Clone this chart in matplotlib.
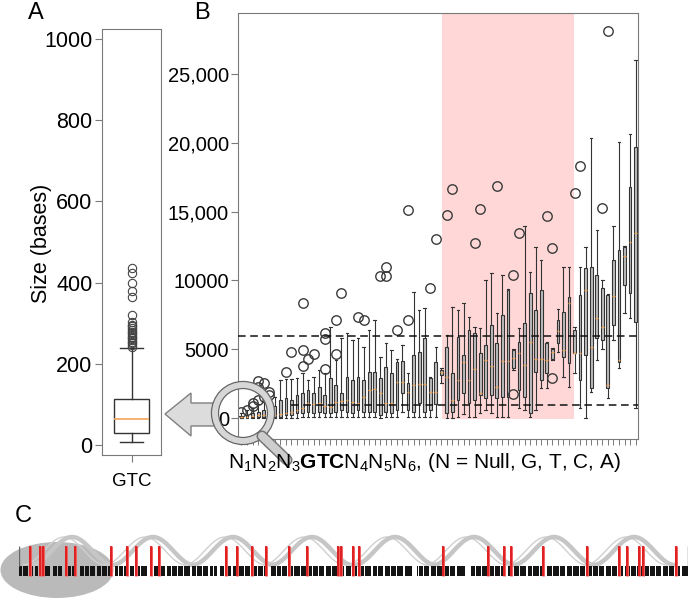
import numpy as np
import matplotlib
matplotlib.use('Agg')
import matplotlib.pyplot as plt
from matplotlib.patches import Ellipse, Circle, Polygon, Rectangle
from matplotlib.lines import Line2D

plt.rcParams['font.family'] = ['Liberation Sans', 'DejaVu Sans']
plt.rcParams['mathtext.fontset'] = 'custom'
plt.rcParams['mathtext.rm'] = 'Liberation Sans'
plt.rcParams['mathtext.bf'] = 'Liberation Sans:bold'
plt.rcParams['mathtext.it'] = 'Liberation Sans:italic'

# ---------------- data ----------------
# Panel A (GTC sizes, bases)
a_label = 'GTC'
a_whislo, a_q1, a_med, a_q3, a_whishi = 8, 29, 64, 113, 238
a_fliers = [242, 246, 250, 254, 258, 263, 267, 271, 275, 279, 283, 287, 292, 296, 304,
            320, 365, 378, 400, 423, 435]

# Panel B (N1N2N3 GTC N4N5N6 variants, sorted)
b_whislo = [0, 0, 0, 0, 0, 0, 0, 0, 20, 30, 30, 40, 40, 50, 50, 50, 60, 60, 60, 60,
            60, 70, 70, 70, 70, 30, 70, 70, 80, 460, 50, 50, 100, 50, 80, 100, 2520, 0, 0, 100,
            300, 50, 100, 340, 580, 340, 100, 100, 100, 3490, 700, 580, 100, 580, 2160, 2160,
            4220, 4820, 3000, 2280, 3250, 700, 0, 1910, 4220, 5000, 1430, 5670, 3610, 7640,
            7240, 700]
b_q1 = [20, 40, 60, 80, 100, 100, 100, 100, 220, 220, 340, 340, 460, 390, 460, 340, 340, 460,
        580, 460, 340, 580, 460, 460, 460, 220, 460, 340, 580, 1790, 580, 460, 1070, 460, 580,
        1020, 3130, 340, 460, 1310, 1790, 1070, 1310, 1670, 1430, 1670, 1430, 1550, 1550,
        3610, 2040, 1550, 340, 3370, 2760, 3250, 4300, 5430, 4460, 3970, 4700, 2760, 4580,
        2160, 5790, 5670, 2160, 6760, 4100, 9670, 9060, 7000]
b_med = [60, 100, 150, 200, 250, 280, 220, 270, 390, 460, 580, 700, 1070, 1020, 1070, 870,
         820, 1190, 1260, 1310, 1190, 1070, 1550, 2040, 2080, 1790, 1070, 1070, 2640, 2640,
         1910, 2400, 2470, 2470, 1910, 1910, 3320, 3000, 1310, 2760, 4050, 2760, 3540, 1790,
         4220, 3780, 2280, 4170, 4170, 4340, 4750, 3850, 5550, 4260, 4260, 4220, 4820, 6320,
         4940, 8340, 4700, 4700, 9300, 5190, 7240, 6590, 2400, 8870, 4200, 11750, 12810, 13420]
b_q3 = [150, 250, 350, 450, 550, 650, 900, 1310, 1430, 1310, 1670, 1790, 2040, 1840, 2280,
        1670, 2880, 2400, 1790, 3000, 2760, 3000, 2760, 3370, 3370, 2880, 3730, 3250, 4100,
        4140, 2520, 4580, 4820, 5790, 2880, 4050, 3490, 5190, 3250, 5910, 4580, 6400, 6150,
        4700, 5310, 6760, 5430, 7490, 9300, 4940, 5550, 6880, 9060, 7850, 9300, 5430, 4990,
        7120, 7730, 8820, 6400, 8940, 10880, 11000, 10390, 9430, 8940, 11490, 12210, 12450,
        16820, 19720]
b_whishi = [350, 550, 750, 1000, 1150, 1350, 1550, 2760, 2810, 2810, 2880, 3250, 2760, 3000,
            3490, 3300, 6640, 4220, 5790, 6150, 5670, 5790, 5190, 6400, 7120, 4460, 5430, 4940,
            4300, 5310, 3250, 9180, 7850, 7970, 3000, 5190, 3610, 6030, 8090, 7850, 8340, 7370,
            6640, 6520, 10030, 10520, 7610, 10390, 9400, 5000, 6520, 13960, 10640, 12450,
            11490, 5500, 5060, 7900, 11000, 11000, 6640, 11000, 12450, 20330, 13660, 10030,
            9000, 13980, 20020, 12500, 20620, 26030]
# outliers: (box index, value)
b_flier_box = [0, 1, 2, 2, 3, 3, 3, 4, 4, 5, 5, 8, 9, 11, 11, 11, 12, 13, 15, 15, 15, 17,
               17, 18, 21, 22, 25, 26, 26, 28, 30, 30, 34, 35, 37, 38, 42, 43, 46, 49, 49,
               50, 55, 56, 56, 60, 61, 65, 66]
b_flier_val = [400, 600, 900, 1100, 1300, 2280, 2690, 1500, 2570, 1670, 1900, 3370, 4820,
               8380, 4940, 3780, 4260, 4630, 6150, 5720, 3540, 7120, 4630, 9110, 7320, 7120,
               10320, 11000, 10320, 6400, 7120, 15120, 9430, 12990, 14760, 16650, 12700,
               15190, 16890, 10390, 1745, 13450, 14690, 12330, 2880, 16380, 18340, 15240, 28090]
b_yticks = [0, 5000, 10000, 15000, 20000, 25000]
b_yticklabels = ['0', '5000', '10000', '15,000', '20,000', '25,000']
b_highlight = (36.1, 59.9)        # shaded variant range (box index)
b_upper_thr = 5960
b_lower_thr = 950

# Panel C (genome map, position units): white gaps in the black barcode
c_length = 669
c_gap_start = [3, 9, 14, 19, 24, 31, 38, 43, 52, 58, 65, 70, 76, 82, 88, 94, 99,
               104, 109, 115, 121, 128, 134, 140, 146, 152, 158, 164, 171, 177, 183, 189, 194,
               198, 205, 212, 219, 225, 231, 238, 244, 249, 257, 262, 268, 274, 281, 287, 293,
               299, 305, 312, 318, 325, 332, 338, 345, 352, 358, 364, 371, 377, 384, 393, 399,
               404, 410, 417, 423, 430, 436, 446, 456, 462, 468, 475, 481, 487, 494,
               500, 507, 513, 520, 526, 533, 540, 546, 553, 560, 566, 573, 579, 585, 592, 598,
               604, 611, 617, 623, 630, 636, 642, 649, 655, 661]
c_gap_width = [1, 1, 1.5, 1, 1, 3, 1, 3, 1, 3, 1, 1, 1.5, 1, 1, 1.5, 1,
               1, 1.5, 1, 1, 3, 1, 1, 1.5, 1, 1, 1, 2, 1, 1, 1.5, 1,
               3, 1, 1.5, 1, 1, 2, 1, 1, 3, 1, 1, 1.5, 1, 1, 1.5, 1,
               1, 1.5, 1, 1, 2, 1, 1.5, 1, 2, 1, 1.5, 1, 1, 2, 5, 1,
               1, 1.5, 1, 1, 1, 1.5, 6, 1, 1, 1.5, 1, 1, 2, 1,
               1, 1.5, 1, 1, 2, 1, 1, 1.5, 1, 1, 1.5, 1, 1, 2, 1, 1,
               1.5, 1, 1, 1.5, 1, 1, 2, 1, 1, 1.5]
c_red = [11, 21, 24, 47, 56, 92, 108, 117, 132, 140, 207, 218, 233, 247, 270, 288, 319, 322,
         334, 340, 424, 469, 485, 492, 524, 568, 600, 608, 620, 624, 657]
c_humps = [53, 134, 214, 293, 376, 455, 535, 615]

# ---------------- figure ----------------
W, H = 693, 602
fig = plt.figure(figsize=(W / 100, H / 100), dpi=100)


def px_axes(l, t, r, b, **kw):
    return fig.add_axes([l / W, 1 - b / H, (r - l) / W, (b - t) / H], **kw)


spine_col = '#7a7a7a'
edge_col = '#333333'
med_col = '#f2a65a'

# ---- Panel A ----
axA = px_axes(102, 29, 161, 455)
statsA = [dict(whislo=a_whislo, q1=a_q1, med=a_med, q3=a_q3, whishi=a_whishi,
               fliers=a_fliers, label=a_label)]
axA.bxp(statsA, positions=[1], widths=0.6, patch_artist=True, capwidths=0.38,
        boxprops=dict(facecolor='white', edgecolor=edge_col, linewidth=1.0),
        medianprops=dict(color=med_col, linewidth=1.2),
        whiskerprops=dict(color=edge_col, linewidth=1.0),
        capprops=dict(color=edge_col, linewidth=1.0),
        flierprops=dict(marker='o', markersize=6, markerfacecolor='none',
                        markeredgecolor='#444444', markeredgewidth=0.8))
axA.set_xlim(0.5, 1.5)
axA.set_ylim(-25, 1025)
axA.set_yticks([0, 200, 400, 600, 800, 1000])
axA.tick_params(axis='y', labelsize=15.5, length=5, color=spine_col, pad=2)
axA.tick_params(axis='x', labelsize=13.5, length=5, color=spine_col, pad=8)
for s in axA.spines.values():
    s.set_color(spine_col)
fig.text(42 / W, 1 - 243 / H, 'Size (bases)', rotation=90, ha='center', va='center',
         fontsize=15.5)

# ---- Panel B ----
axB = px_axes(238, 13, 638, 439)
n = len(b_med)
pos = np.arange(n)
statsB = []
for i in range(n):
    fl = [v for b, v in zip(b_flier_box, b_flier_val) if b == i]
    statsB.append(dict(whislo=b_whislo[i], q1=b_q1[i], med=b_med[i], q3=b_q3[i],
                       whishi=b_whishi[i], fliers=fl))
axB.add_patch(Rectangle((b_highlight[0], -40), b_highlight[1] - b_highlight[0], 40000,
                        facecolor='#ffd7d7', edgecolor='none', zorder=0))
axB.bxp(statsB, positions=pos, widths=0.5, patch_artist=True, capwidths=0.45,
        manage_ticks=False,
        boxprops=dict(facecolor='#bdbdbd', edgecolor=edge_col, linewidth=0.8),
        medianprops=dict(color=med_col, linewidth=1.0),
        whiskerprops=dict(color=edge_col, linewidth=0.8),
        capprops=dict(color=edge_col, linewidth=0.8),
        flierprops=dict(marker='o', markersize=6.8, markerfacecolor='none',
                        markeredgecolor='#3a3a3a', markeredgewidth=1.0))
xmin, xmax = -0.63, 71.43
axB.set_xlim(xmin, xmax)
axB.set_ylim(-1526, 29430)
axB.axhline(b_upper_thr, color='#111111', lw=1.1, ls=(0, (5, 3)), zorder=4)
axB.axhline(b_lower_thr, xmin=(9 - xmin) / (xmax - xmin), xmax=1, color='#111111', lw=1.1,
            ls=(0, (5, 3)), zorder=4)
axB.set_xticks(pos)
axB.set_xticklabels([])
axB.set_yticks(b_yticks)
axB.set_yticklabels(b_yticklabels)
axB.tick_params(axis='y', labelsize=14.5, length=5, color=spine_col, pad=1.5)
axB.tick_params(axis='x', length=4, width=0.7, color=spine_col)
for s in axB.spines.values():
    s.set_color(spine_col)

# ---- overlay: arrow, magnifier, x label ----
ov = fig.add_axes([0, 0, 1, 1], zorder=10)
ov.set_xlim(0, W)
ov.set_ylim(H, 0)
ov.axis('off')
ov.patch.set_alpha(0)
arrow = Polygon([(165, 414), (191, 393), (191, 403), (215, 403), (215, 426), (191, 426),
                 (191, 436)], closed=True, facecolor='#dcdcdc', edgecolor='#808080', lw=1.0)
ov.add_patch(arrow)
ov.add_line(Line2D([262, 287], [436, 460], lw=8.0, color='#6a6a6a', solid_capstyle='round',
                   alpha=0.9))
ov.add_line(Line2D([262, 287], [436, 460], lw=5.8, color='#d8d8d8', solid_capstyle='round',
                   alpha=0.9))
ov.add_patch(Circle((243, 413), 28, facecolor='none', edgecolor='#666666', lw=6.0))
ov.add_patch(Circle((243, 413), 28, facecolor='none', edgecolor='#d6d6d6', lw=4.2))
ov.text(425, 463,
        r'$\mathrm{N}_1\mathrm{N}_2\mathrm{N}_3\mathbf{GTC}\mathrm{N}_4\mathrm{N}_5\mathrm{N}_6$, (N = Null, G, T, C, A)',
        ha='center', va='center', fontsize=15, zorder=20)

# ---- Panel C ----
axC = px_axes(19, 530, 688, 580)
axC.set_xlim(0, c_length)
axC.set_ylim(0, 50)
axC.axis('off')
axC.add_patch(Ellipse((38, 10), 113, 56, facecolor='#bababa', edgecolor='none', zorder=0,
                      clip_on=False))
for c in c_humps:
    xs = np.linspace(c - 41, c + 41, 80)
    ys = 15 + 28 * (1 + np.cos(np.pi * (xs - c) / 41)) / 2
    axC.plot(xs - 8, ys, color='#d0d0d0', lw=1.0, zorder=1, solid_capstyle='round')
    axC.plot(xs, ys, color='#c6c6c6', lw=3.2, zorder=1, solid_capstyle='round')
edges = [0] + [v for g, w in zip(c_gap_start, c_gap_width) for v in (g, g + w)] + [c_length]
for s, e in zip(edges[0::2], edges[1::2]):
    axC.add_patch(Rectangle((s, 4), e - s, 10, facecolor='#141414', edgecolor='none',
                            zorder=2))
axC.vlines([0, c_length], 14, 34, color='#666666', lw=1.0, zorder=2)
axC.vlines(c_red, 4, 34, color='#f06060', lw=2.2, zorder=3)
axC.vlines(c_red, 4, 34, color='#dd1515', lw=1.2, zorder=3)

# ---- panel letters ----
fig.text(28 / W, 1 - 13 / H, 'A', fontsize=17, ha='left', va='center')
fig.text(194 / W, 1 - 13 / H, 'B', fontsize=17, ha='left', va='center')
fig.text(15 / W, 1 - 516 / H, 'C', fontsize=17, ha='left', va='center')

fig.savefig('out.png', dpi=100)
